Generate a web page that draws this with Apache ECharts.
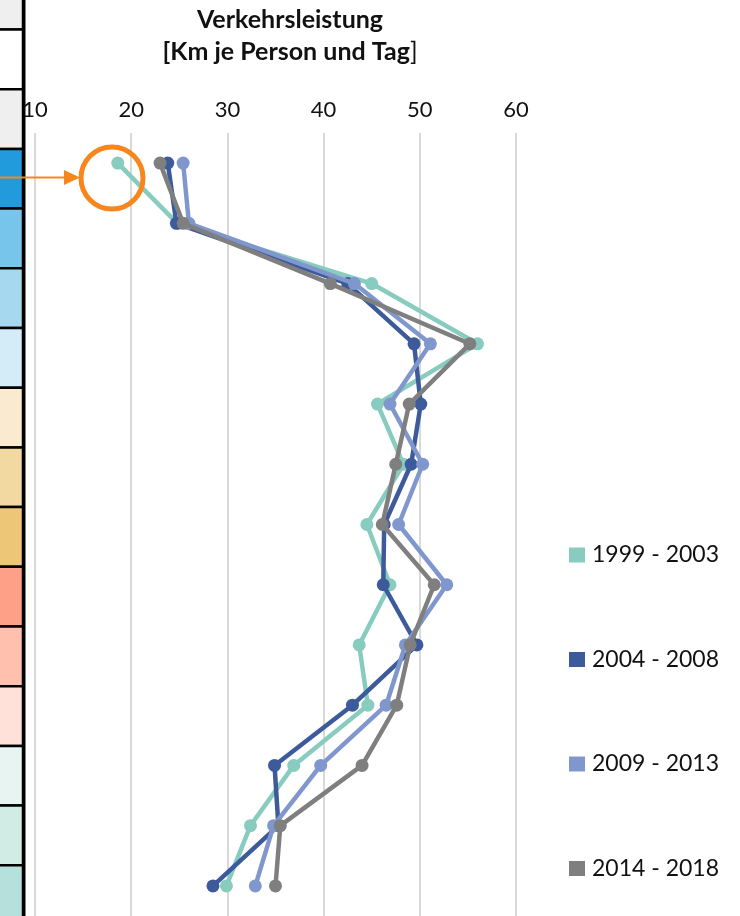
<!DOCTYPE html>
<html>
<head>
<meta charset="utf-8">
<script src="https://cdn.jsdelivr.net/npm/echarts@6/dist/echarts.min.js"></script>
<style>
html,body{margin:0;padding:0;background:#fff;}
#chart{width:740px;height:916px;}
</style>
</head>
<body>
<div id="chart"></div>
<script>
// Categories (13 rows, top to bottom; labels hidden in the reference)
var categories = ['1','2','3','4','5','6','7','8','9','10','11','12','13'];
var seriesNames = ['1999 - 2003','2004 - 2008','2009 - 2013','2014 - 2018'];
var s1999 = [18.6, 24.8, 45.0, 56.0, 45.6, 48.3, 44.5, 46.9, 43.7, 44.6, 36.9, 32.4, 29.9];
var s2004 = [23.8, 24.7, 42.5, 49.4, 50.1, 49.1, 46.3, 46.2, 49.7, 43.0, 34.9, 35.3, 28.5];
var s2009 = [25.4, 26.0, 43.2, 51.1, 46.9, 50.3, 47.8, 52.8, 48.5, 46.5, 39.7, 34.8, 32.9];
var s2014 = [23.0, 25.4, 40.7, 55.2, 48.9, 47.5, 46.1, 51.5, 49.0, 47.6, 44.0, 35.5, 35.0];
var xTicks = [10, 20, 30, 40, 50, 60];
var seriesColors = ['#88cbbf', '#3d5a9b', '#8097cd', '#7f7f7f'];
// Colour strip on the left (decorative table column)
var stripColors = ['#efefef','#ffffff','#efefef','#219bdc','#78c5ec','#a6d9f0','#d4ebf8',
  '#faebd0','#f2d9a2','#edc677','#fea088','#ffc0ae','#ffe1d9','#e7f4f1','#d1ebe5','#b5e0db'];

var chart = echarts.init(document.getElementById('chart'));
var FONT = 'Lato';

var allData = [s1999, s2004, s2009, s2014];
var series = allData.map(function (d, i) {
  return {
    name: seriesNames[i],
    type: 'line',
    data: d,
    symbol: 'circle',
    symbolSize: 13,
    lineStyle: {width: 4.5, color: seriesColors[i]},
    itemStyle: {color: seriesColors[i]},
    animation: false,
    z: 2 + i
  };
});

var stripEls = [];
var cellH = 59.7, cellTop = -30.2;
stripColors.forEach(function (c, i) {
  stripEls.push({
    type: 'rect',
    shape: {x: -2, y: cellTop + i * cellH, width: 25, height: cellH},
    style: {fill: c, stroke: '#000', lineWidth: 2.5},
    silent: true
  });
});
stripEls.push({
  type: 'line',
  shape: {x1: 24, y1: 0, x2: 24, y2: 916},
  style: {stroke: '#000', lineWidth: 3},
  silent: true
});

var option = {
  backgroundColor: '#ffffff',
  animation: false,
  textStyle: {fontFamily: FONT},
  grid: {left: 35, right: 224, top: 133, height: 786.5, containLabel: false},
  xAxis: {
    type: 'value',
    position: 'top',
    min: xTicks[0],
    max: xTicks[xTicks.length - 1],
    interval: 10,
    axisLine: {show: false},
    axisTick: {show: false},
    axisLabel: {fontSize: 22, color: '#111', margin: 12, fontFamily: FONT},
    splitLine: {show: true, lineStyle: {color: '#d9d9d9', width: 2}}
  },
  yAxis: {
    type: 'category',
    data: categories,
    inverse: true,
    boundaryGap: true,
    axisLine: {show: false},
    axisTick: {show: false},
    axisLabel: {show: false},
    splitLine: {show: false}
  },
  legend: {
    orient: 'vertical',
    left: 564,
    top: 538,
    itemWidth: 16,
    itemHeight: 15,
    itemGap: 80.5,
    icon: 'rect',
    data: seriesNames,
    textStyle: {fontSize: 23, color: '#111', fontFamily: FONT, lineHeight: 24, padding: [0, 0, 0, 2]}
  },
  graphic: [
    {type: 'group', children: stripEls, z: 10},
    {
      type: 'text', x: 290, y: 7, z: 10,
      style: {text: 'Verkehrsleistung', fontSize: 25, fontWeight: 'bold', fontFamily: FONT, fill: '#111', textAlign: 'center'}
    },
    {
      type: 'text', x: 290, y: 39, z: 10,
      style: {
        text: '{b|[Km je Person und Tag}{n|]}',
        textAlign: 'center',
        rich: {
          b: {fontSize: 25, fontWeight: 'bold', fontFamily: FONT, fill: '#111'},
          n: {fontSize: 25, fontWeight: 'normal', fontFamily: FONT, fill: '#111'}
        }
      }
    },
    {
      type: 'circle', z: 20,
      shape: {cx: 112, cy: 178, r: 31},
      style: {fill: 'none', stroke: '#f7861c', lineWidth: 5}
    },
    {
      type: 'line', z: 20,
      shape: {x1: 0, y1: 177.5, x2: 68, y2: 177.5},
      style: {stroke: '#f7861c', lineWidth: 2}
    },
    {
      type: 'polygon', z: 20,
      shape: {points: [[64, 170], [80, 177.5], [64, 185]]},
      style: {fill: '#f7861c'}
    }
  ],
  series: series
};
chart.setOption(option);
</script>
</body>
</html>
